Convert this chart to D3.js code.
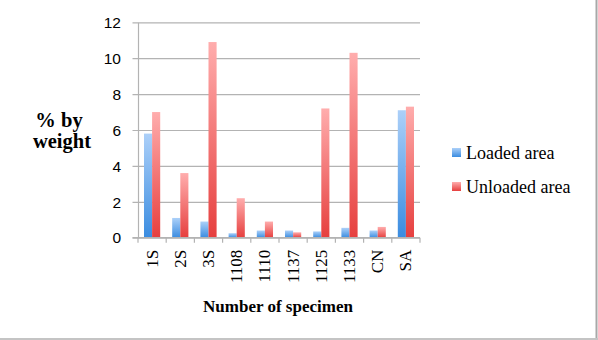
<!DOCTYPE html>
<html>
<head>
<meta charset="utf-8">
<script src="https://cdn.jsdelivr.net/npm/d3@7/dist/d3.min.js"></script>
<style>
  html, body { margin: 0; padding: 0; background: #fff; }
  svg { display: block; }
</style>
</head>
<body>
<svg id="chart" width="598" height="340"></svg>
<script>
// Specimen categories and the two measured series (% by weight)
const categories = ["1S", "2S", "3S", "1108", "1110", "1137", "1125", "1133", "CN", "SA"];
const seriesNames = ["Loaded area", "Unloaded area"];
const loadedArea = [5.8, 1.1, 0.9, 0.25, 0.4, 0.4, 0.35, 0.55, 0.4, 7.1];
const unloadedArea = [7.0, 3.6, 10.9, 2.2, 0.9, 0.3, 7.2, 10.3, 0.6, 7.3];
const yTicks = [0, 2, 4, 6, 8, 10, 12];

const seriesValues = [loadedArea, unloadedArea];
const colors = [
  { id: "gradBlue", top: "#acd0f9", bottom: "#3a8ce0" },
  { id: "gradRed", top: "#ffadad", bottom: "#e63f3e" }
];

const svg = d3.select("#chart");
const W = 598, H = 340;
const plot = { left: 138, right: 420, top: 22.3, bottom: 237.7 };

// Bar gradients: light at the top, saturated at the base
const defs = svg.append("defs");
colors.forEach(c => {
  const g = defs.append("linearGradient")
    .attr("id", c.id).attr("x1", 0).attr("y1", 0).attr("x2", 0).attr("y2", 1);
  g.append("stop").attr("offset", "0%").attr("stop-color", c.top);
  g.append("stop").attr("offset", "100%").attr("stop-color", c.bottom);
});

// Outer frame lines on the right and bottom
svg.append("line").attr("x1", W - 1.5).attr("x2", W - 1.5).attr("y1", 0).attr("y2", H)
  .attr("stroke", "#a8a8a8").attr("stroke-width", 2);
svg.append("line").attr("x1", 0).attr("x2", W).attr("y1", H - 1).attr("y2", H - 1)
  .attr("stroke", "#c4c4c4").attr("stroke-width", 2);

const x = d3.scaleBand().domain(categories).range([plot.left, plot.right]).padding(0);
const x1 = d3.scaleBand().domain(seriesNames).range([0, x.bandwidth()])
  .paddingInner(0).paddingOuter(0.74);
const y = d3.scaleLinear().domain([0, 12]).range([plot.bottom, plot.top]);

const gridColor = "#b3b3b3";

// Horizontal gridlines with short ticks to the left of the axis
const yAxis = d3.axisLeft(y).tickValues(yTicks).tickSize(-(plot.right - plot.left)).tickSizeOuter(0)
  .tickPadding(17).tickFormat(d3.format("d"));
const gy = svg.append("g").attr("transform", `translate(${plot.left},0)`).call(yAxis);
gy.select(".domain").attr("stroke", gridColor).attr("stroke-width", 1.2);
gy.selectAll(".tick line").attr("stroke", gridColor).attr("stroke-width", 1.2)
  .attr("x1", -5.5);
gy.selectAll(".tick text")
  .attr("font-family", "'Liberation Sans', Arial, sans-serif")
  .attr("font-size", 15.5).attr("fill", "#000").attr("dy", "0.34em");

// Bars
const groups = svg.append("g").selectAll("g").data(categories).join("g")
  .attr("transform", d => `translate(${x(d)},0)`);
groups.selectAll("rect")
  .data((d, i) => seriesNames.map((s, k) => ({ s, k, v: seriesValues[k][i] })))
  .join("rect")
  .attr("x", d => x1(d.s))
  .attr("width", x1.bandwidth())
  .attr("y", d => y(d.v))
  .attr("height", d => y(0) - y(d.v))
  .attr("fill", d => `url(#${colors[d.k].id})`);

// Category axis with tick marks between categories
const gx = svg.append("g").attr("transform", `translate(0,${plot.bottom})`);
gx.append("line").attr("x1", plot.left - 5.5).attr("x2", plot.right)
  .attr("stroke", gridColor).attr("stroke-width", 1.2);
const bounds = categories.map(c => x(c)).concat([plot.right]);
gx.selectAll("line.sep").data(bounds).join("line").attr("class", "sep")
  .attr("x1", d => d).attr("x2", d => d).attr("y1", 0).attr("y2", 5)
  .attr("stroke", gridColor).attr("stroke-width", 1.2);
gx.selectAll("text").data(categories).join("text")
  .attr("transform", d => `translate(${x(d) + x.bandwidth() / 2 + 5.5},12) rotate(-90)`)
  .attr("text-anchor", "end")
  .attr("font-family", "'Liberation Serif', 'Times New Roman', serif")
  .attr("font-size", 17).attr("fill", "#000")
  .text(d => d);

// Axis titles
svg.append("text").attr("x", 278).attr("y", 312).attr("text-anchor", "middle")
  .attr("font-family", "'Liberation Serif', serif").attr("font-weight", "bold")
  .attr("font-size", 17).text("Number of specimen");
const yt = svg.append("text").attr("text-anchor", "middle")
  .attr("font-family", "'Liberation Serif', serif").attr("font-weight", "bold")
  .attr("font-size", 20.5);
yt.append("tspan").attr("x", 59).attr("y", 127).text("% by");
yt.append("tspan").attr("x", 62).attr("y", 148).text("weight");

// Legend
const legend = svg.append("g").selectAll("g").data(seriesNames).join("g")
  .attr("transform", (d, i) => `translate(452,${148 + i * 34})`);
legend.append("rect").attr("width", 9).attr("height", 9)
  .attr("fill", (d, i) => `url(#${colors[i].id})`);
legend.append("text").attr("x", 14).attr("y", 11)
  .attr("font-family", "'Liberation Serif', serif").attr("font-size", 18)
  .text(d => d);
</script>
</body>
</html>
